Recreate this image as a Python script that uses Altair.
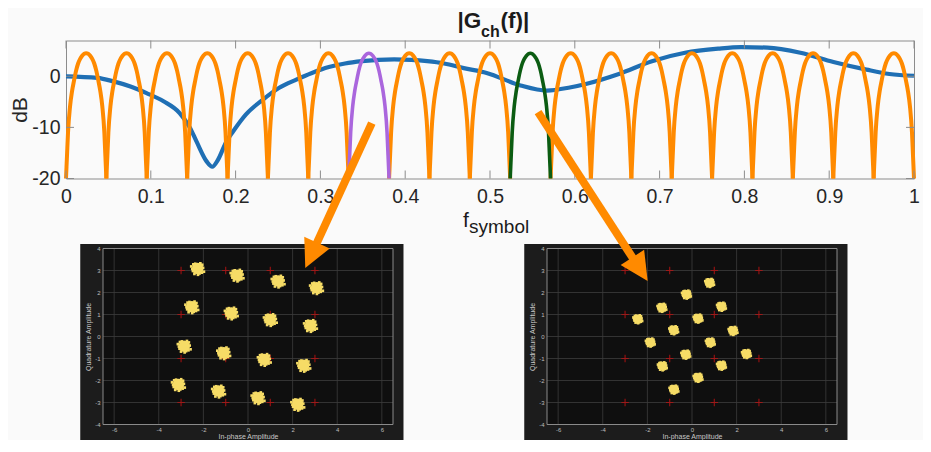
import altair as alt
import pandas as pd

FONT = "Liberation Sans"

# ---------------- top panel data ----------------
blue_f = [0, 0.037, 0.056, 0.076, 0.095, 0.115, 0.134, 0.146, 0.154, 0.166, 0.1725,
          0.179, 0.189, 0.197, 0.212, 0.232, 0.251, 0.271, 0.29, 0.31, 0.329, 0.349,
          0.387, 0.407, 0.426, 0.446, 0.469, 0.496, 0.536, 0.567, 0.594, 0.613, 0.652,
          0.691, 0.730, 0.769, 0.796, 0.827, 0.866, 0.905, 0.944, 0.971, 1.0]
blue_db = [0, -0.3, -1.0, -2.0, -3.3, -4.9, -7.2, -10.0, -12.8, -16.7, -17.7,
           -16.4, -12.8, -10.8, -7.5, -4.6, -2.3, -0.7, 0.65, 1.8, 2.5, 2.95,
           3.3, 3.2, 2.95, 2.5, 1.6, 0.65, -1.8, -2.8, -2.2, -1.5, 0.46,
           2.95, 4.6, 5.4, 5.7, 5.6, 4.6, 2.8, 1.3, 0.45, 0.1]

# sub-carrier nulls (edges of each hump)
null_f = [0, 0.0476, 0.0952, 0.1429, 0.1905, 0.2381, 0.2857, 0.3333, 0.381, 0.4286,
          0.4762, 0.5238, 0.5714, 0.619, 0.6667, 0.7143, 0.7619, 0.8095, 0.8571,
          0.9048, 0.9524, 1.0]
hump_kind = ["sub"] * 7 + ["purple"] + ["sub"] * 3 + ["green"] + ["sub"] * 9
# hump profile (relative position in hump, dB)
prof_u = [-1.0, -0.95, -0.9, -0.8, -0.7, -0.6, -0.5, -0.4, -0.3, -0.2, -0.1, 0.0,
          0.1, 0.2, 0.3, 0.4, 0.5, 0.6, 0.7, 0.8, 0.9, 0.95, 1.0]
prof_db = [-20, -15.5, -11.0, -5.9, -2.9, -0.8, 1.1, 2.5, 3.4, 4.0, 4.4, 4.5,
           4.4, 4.0, 3.4, 2.5, 1.1, -0.8, -2.9, -5.9, -11.0, -15.5, -20]

x_ticks = [0, 0.1, 0.2, 0.3, 0.4, 0.5, 0.6, 0.7, 0.8, 0.9, 1]
y_ticks = [-20, -10, 0]

title_parts = ["|G", "ch", "(f)|"]
xtitle_parts = ["f", "symbol"]

# ---------------- constellation data ----------------
qam_levels = [-3, -1, 1, 3]
left_I = [-2.26, -0.49, 1.35, 3.07, -2.52, -0.75, 1.0, 2.8, -2.86, -1.09, 0.73, 2.5,
          -3.12, -1.32, 0.45, 2.23]
left_Q = [3.09, 2.79, 2.52, 2.22, 1.35, 1.07, 0.77, 0.5, -0.44, -0.74, -1.04, -1.31,
          -2.18, -2.48, -2.78, -3.08]
right_I = [0.79, -0.25, 1.32, -1.35, -2.43, 0.27, 1.84, -0.82, -1.87, 0.82, 2.44,
           -0.28, -1.33, 1.32, 0.27, -0.81]
right_Q = [2.45, 1.92, 1.37, 1.32, 0.8, 0.83, 0.27, 0.3, -0.26, -0.26, -0.78, -0.81,
           -1.34, -1.31, -1.86, -2.4]
# speckle pattern of a received cluster (I, Q offsets)
speck_dI = [0, 0.15, -0.14, 0.05, -0.06, 0.18, -0.19, 0.26, -0.25, 0.09, -0.11, 0.13,
            -0.2, 0.22, 0.02, -0.3, 0.3, -0.15, 0.1, -0.08, 0.2, -0.22]
speck_dQ = [0, 0.08, 0.1, 0.18, -0.17, -0.09, -0.1, 0.03, -0.02, -0.24, 0.23, 0.25,
            0.2, 0.18, -0.3, 0.1, -0.15, -0.26, 0.0, 0.05, -0.2, -0.12]

grid_I = [-6, -4, -2, 0, 2, 4, 6]
grid_Q = [-4, -3, -2, -1, 0, 1, 2, 3, 4]
frame_I = [-7.52, 6.97]
frame_Q = [-4.71, 4.2]

# arrows: start point and arrow-head centre, in each panel's I/Q units
arrow_left = {"I": 5.55, "Q": 9.70, "I2": 2.83, "Q2": 3.69, "ang": 24.7}
arrow_right = {"I": -6.90, "Q": 10.2, "I2": -2.33, "Q2": 3.06, "ang": 327.0}

ORANGE = "#ff8a00"
YELLOW = "#f6dc66"

# ---------------- top panel ----------------
W, H = 848, 138
xs = alt.Scale(domain=[0, 1], nice=False, zero=False)
ys = alt.Scale(domain=[-20, 7], nice=False, zero=False)
xax = alt.Axis(values=x_ticks, labelExpr="'' + datum.value", ticks=False, domain=False,
               grid=False, labelFontSize=19.5, labelColor="#262626", labelPadding=9,
               labelFont=FONT, labelFlush=False, title=None)
yax = alt.Axis(values=y_ticks, labelExpr="'' + datum.value", ticks=False, domain=False,
               grid=False, labelFontSize=19.5, labelColor="#262626", labelPadding=6,
               labelFont=FONT, labelFlush=False, title="dB", titleFontSize=21,
               titleFont=FONT, titleFontWeight="normal", titleColor="#262626",
               titlePadding=1.8)

df_blue = pd.DataFrame({"f": blue_f, "db": blue_db})
rows = []
for k in range(len(hump_kind)):
    a, b = null_f[k], null_f[k + 1]
    for u, d in zip(prof_u, prof_db):
        rows.append({"k": k, "kind": hump_kind[k], "f": (a + b) / 2 + u * (b - a) / 2, "db": d})
df_h = pd.DataFrame(rows)

X = alt.X("f:Q", scale=xs, axis=xax)
Y = alt.Y("db:Q", scale=ys, axis=yax)

blue = alt.Chart(df_blue).mark_line(color="#1f6fb4", strokeWidth=4.2,
                                    interpolate="monotone").encode(x=X, y=Y)
sub = alt.Chart(df_h[df_h.kind == "sub"]).mark_line(
    color=ORANGE, strokeWidth=4, interpolate="monotone").encode(x=X, y=Y, detail="k:N")
purple = alt.Chart(df_h[df_h.kind == "purple"]).mark_line(
    color="#aa66dd", strokeWidth=3.6, interpolate="monotone").encode(x=X, y=Y)
green = alt.Chart(df_h[df_h.kind == "green"]).mark_line(
    color="#0b5c12", strokeWidth=3.6, interpolate="monotone").encode(x=X, y=Y)

df_xt = pd.DataFrame({"f": x_ticks})
df_yt = pd.DataFrame({"db": y_ticks})
tick_style = dict(color="#8c8c8c", strokeWidth=1)
xt_top = alt.Chart(df_xt).mark_rule(**tick_style).encode(x=X, y=alt.value(0), y2=alt.value(8))
xt_bot = alt.Chart(df_xt).mark_rule(**tick_style).encode(x=X, y=alt.value(H - 8), y2=alt.value(H))
yt_l = alt.Chart(df_yt).mark_rule(**tick_style).encode(y=Y, x=alt.value(0), x2=alt.value(8))
yt_r = alt.Chart(df_yt).mark_rule(**tick_style).encode(y=Y, x=alt.value(W - 8), x2=alt.value(W))

one = pd.DataFrame({"a": [0]})


def txt(s, x, y, size, weight="normal"):
    return alt.Chart(one).mark_text(text=s, align="left", baseline="alphabetic",
                                    font=FONT, fontSize=size, fontWeight=weight,
                                    color="#1a1a1a").encode(x=alt.value(x), y=alt.value(y))


titles = [
    txt(title_parts[0], 391.5, -12.3, 22.5, "bold"),
    txt(title_parts[1], 415.0, -3.5, 16, "bold"),
    txt(title_parts[2], 434.5, -12.3, 22.5, "bold"),
    txt(xtitle_parts[0], 397.0, 186.0, 21),
    txt(xtitle_parts[1], 403.0, 192.2, 19),
]

top = alt.layer(blue, sub, purple, green, xt_top, xt_bot, yt_l, yt_r, *titles).properties(
    width=W, height=H, view=alt.ViewBackground(stroke="#8c8c8c", strokeWidth=1))

# ---------------- constellation panels ----------------
PW, PH = 290, 176
bxs = alt.Scale(domain=[-6.5, 6.5], nice=False, zero=False)
bys = alt.Scale(domain=[-4, 4], nice=False, zero=False)
bxa = alt.Axis(values=grid_I, labelExpr="'' + datum.value", ticks=False, domain=False,
               grid=False, labelFontSize=6, labelColor="#bdbdbd", labelPadding=1.5,
               labelFont=FONT, title="In-phase Amplitude", titleFontSize=7,
               titleColor="#c8c8c8", titleFont=FONT, titleFontWeight="normal",
               titlePadding=0, zindex=1)
bya = alt.Axis(values=grid_Q, labelExpr="'' + datum.value", ticks=False, domain=False,
               grid=False, labelFontSize=6, labelColor="#bdbdbd", labelPadding=3,
               labelFont=FONT, title="Quadrature Amplitude", titleFontSize=7,
               titleColor="#c8c8c8", titleFont=FONT, titleFontWeight="normal",
               titlePadding=3, zindex=1)
BX = alt.X("I:Q", scale=bxs, axis=bxa)
BY = alt.Y("Q:Q", scale=bys, axis=bya)


def panel(cI, cQ, spread, blob, arrow):
    df_frame = pd.DataFrame({"I": [frame_I[0]], "I2": [frame_I[1]],
                             "Q": [frame_Q[0]], "Q2": [frame_Q[1]]})
    df_inner = pd.DataFrame({"I": [-6.5], "I2": [6.5], "Q": [-4], "Q2": [4]})
    frame = alt.Chart(df_frame).mark_rect(color="#1c1c1c").encode(
        x=BX, x2="I2:Q", y=BY, y2="Q2:Q")
    inner = alt.Chart(df_inner).mark_rect(color="#0f0f0f").encode(
        x=BX, x2="I2:Q", y=BY, y2="Q2:Q")
    border = alt.Chart(df_inner).mark_rect(filled=False, stroke="#8a8a8a",
                                           strokeWidth=1).encode(
        x=BX, x2="I2:Q", y=BY, y2="Q2:Q")
    gv = alt.Chart(pd.DataFrame({"I": grid_I})).mark_rule(
        color="#3c3c3c", strokeWidth=0.8).encode(x=BX, y=alt.value(0), y2=alt.value(PH))
    gh = alt.Chart(pd.DataFrame({"Q": grid_Q})).mark_rule(
        color="#3c3c3c", strokeWidth=0.8).encode(y=BY, x=alt.value(0), x2=alt.value(PW))
    ref = pd.DataFrame([{"I": i, "Q": q} for q in qam_levels for i in qam_levels])
    crosses = alt.Chart(ref).mark_point(shape="M-1,0L1,0M0,-1L0,1", size=56,
                                        filled=False, color="#c81212",
                                        strokeWidth=1.2).encode(x=BX, y=BY)
    sp = pd.DataFrame([{"I": i + di * spread, "Q": q + dq * spread}
                       for i, q in zip(cI, cQ) for di, dq in zip(speck_dI, speck_dQ)])
    speck = alt.Chart(sp).mark_square(size=7, color=YELLOW, opacity=1).encode(x=BX, y=BY)
    blobs = alt.Chart(pd.DataFrame({"I": cI, "Q": cQ})).mark_circle(
        size=blob, color=YELLOW, opacity=1).encode(x=BX, y=BY)
    adf = pd.DataFrame([arrow])
    shaft = alt.Chart(adf).mark_rule(color=ORANGE, strokeWidth=8, strokeCap="butt").encode(
        x=BX, y=BY, x2="I2:Q", y2="Q2:Q")
    head = alt.Chart(adf).mark_point(shape="M0,1L-1,-1L1,-1Z", size=784, filled=True,
                                     color=ORANGE, opacity=1).encode(
        x=alt.X("I2:Q", scale=bxs, axis=bxa), y=alt.Y("Q2:Q", scale=bys, axis=bya),
        angle=alt.Angle("ang:Q", scale=None))
    return alt.layer(frame, inner, gv, gh, border, crosses, speck, blobs, shaft, head).properties(
        width=PW, height=PH)


def spacer(w):
    return alt.Chart(one).mark_point(opacity=0).properties(width=w, height=PH)


left = panel(left_I, left_Q, 0.95, 130, arrow_left)
right = panel(right_I, right_Q, 0.65, 70, arrow_right)

bottom = alt.hconcat(spacer(36.2), left, spacer(153.3), right, spacing=0, bounds="flush")

chart = alt.vconcat(top, bottom, spacing=70, bounds="flush").properties(
    padding={"top": 1.5, "left": 0, "right": 0, "bottom": -2},
    background="#fafafa").configure_view(stroke="transparent")

chart.save("out.html", embed_options={"renderer": "svg", "actions": False})
